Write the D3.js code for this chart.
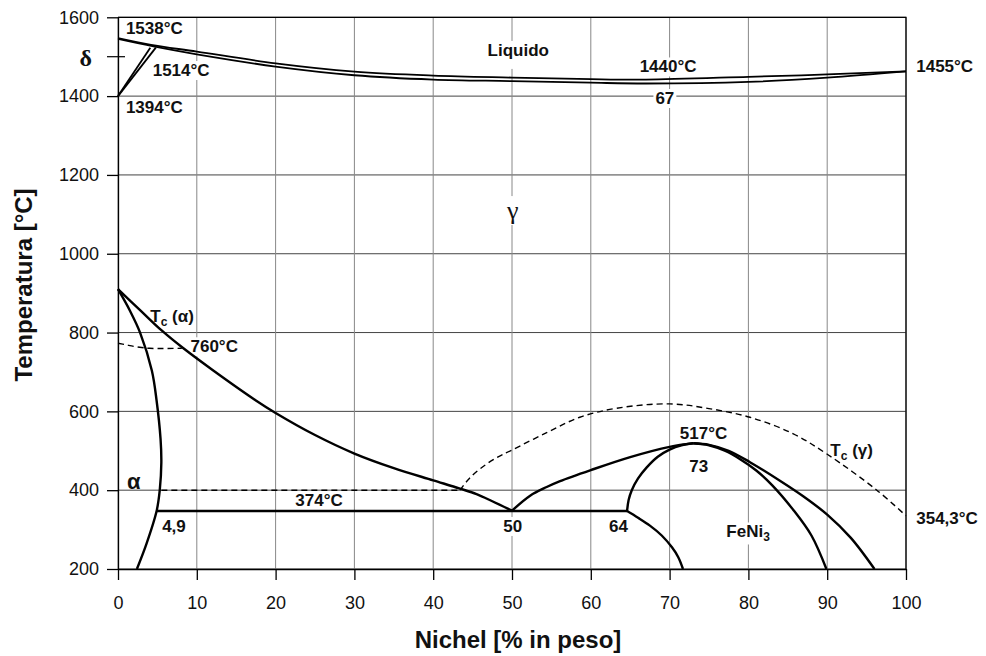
<!DOCTYPE html>
<html lang="it">
<head>
<meta charset="UTF-8">
<title>Diagramma Fe-Ni</title>
<script src="https://cdn.jsdelivr.net/npm/d3@7"></script>
<style>
  body { margin: 0; background: #fff; }
  svg { display: block; font-family: "Liberation Sans", Arial, sans-serif; }
  .axis text { font-size: 18px; fill: #111; }
  .axis path, .axis line { stroke: #000; stroke-width: 1.3; }
  .grid-h { stroke: #444; stroke-width: 1; }
  .grid-v { stroke: #888; stroke-width: 1; }
  .curve { fill: none; stroke: #000; stroke-width: 2.4; stroke-linejoin: round; }
  .thin { fill: none; stroke: #000; stroke-width: 1.8; }
  .dash { fill: none; stroke: #000; stroke-width: 1.4; stroke-dasharray: 6,4; }
  .lbl { font-size: 17px; font-weight: bold; fill: #111; }
  .title { font-size: 24px; font-weight: bold; fill: #111; }
</style>
</head>
<body>
<svg width="986" height="656"></svg>
<script>
// ticks
const niTicks = d3.range(0, 101, 10);
const tempTicks = d3.range(200, 1601, 200);
const minorTicks = [1500];

// curves: [Ni wt%, temperature C]
const liquidus = [[0,1547],[4.2,1530],[10,1513],[20,1483],[30,1462],[40,1452],[50,1447],[60,1443],[67,1442],[80,1449],[90,1455],[100,1463]];
const solidus = [[0,1545],[4.5,1526],[10,1506],[20,1475],[30,1453],[40,1442],[50,1438],[60,1434],[67,1432],[80,1436],[90,1447],[100,1463]];
const deltaLeft = [[0,1400],[4.1,1523]];
const deltaRight = [[0,1400],[4.8,1523]];
const alphaBoundary = [[0,910],[1.5,856],[2.8,800],[4.3,703],[4.9,627],[5.4,530],[5.5,470],[5.3,400],[4.9,347],[3.6,263],[2.4,200]];
const gammaBoundary = [[0,910],[2.8,857],[5.5,806],[8.3,760],[12,705],[17.4,629],[20,596],[25,540],[30,493],[35,456],[40,425],[43.4,404],[45.5,390],[47.5,372],[50,348]];
const eutectoid = [[4.9,347],[64.6,347]];
const rightOfEutectoid = [[50,348],[52.3,386],[54.4,408],[56.1,423],[60,451],[65,484],[70,510],[73,519]];
const feni3Left = [[64.6,347],[64.8,375],[65.2,400],[66,430],[67.1,458],[68.5,485],[70,503],[71.5,514],[73,519]];
const feni3Lower = [[64.6,347],[66,330],[67.5,310],[69,285],[70.3,255],[71.1,230],[71.7,200]];
const feni3Inner = [[73,519],[75,514],[77,500],[79,478],[81,450],[83,413],[85.7,350],[88,285],[89.9,200]];
const feni3Outer = [[73,519],[75,515],[77.5,500],[80.2,471],[84,424],[87,384],[90,338],[93,279],[96,200]];
const tcAlpha = [[0,773],[1,769],[2,765],[3,762],[4,760],[8.1,760]];
const magnetic400 = [[5.5,400],[43.4,400]];
const tcGamma = [[43.4,400],[44.5,428],[46,455],[48,482],[50,502],[54.4,546],[58.6,585],[63.3,608],[70,619],[75,607],[80.2,585],[85.7,543],[90.1,490],[96.3,400],[100,335]];

// labels: text, Ni, T, anchor, font, white box
const labels = [
  {t: "1538°C", ni: 1.0, temp: 1557, a: "start"},
  {t: "1514°C", ni: 4.4, temp: 1451, a: "start", bg: true},
  {t: "1394°C", ni: 1.0, temp: 1356, a: "start"},
  {t: "δ", ni: -4.1, temp: 1476, a: "middle", f: "serif", size: 24},
  {t: "Liquido", ni: 50.8, temp: 1502, a: "middle", bg: true, padB: 9},
  {t: "1440°C", ni: 66.2, temp: 1460, a: "start", bg: true},
  {t: "67", ni: 69.4, temp: 1380, a: "middle", bg: true},
  {t: "1455°C", ni: 101.3, temp: 1460, a: "start"},
  {t: "γ", ni: 50.1, temp: 1088, a: "middle", f: "serif", size: 26, weight: "normal", bg: true},
  {t: "T", sub: "c", tail: " (α)", ni: 4.1, temp: 826, a: "start"},
  {t: "760°C", ni: 9.2, temp: 750, a: "start", bg: true},
  {t: "α", ni: 2.0, temp: 404, a: "middle", size: 22},
  {t: "374°C", ni: 22.5, temp: 359, a: "start"},
  {t: "4,9", ni: 5.6, temp: 293, a: "start"},
  {t: "50", ni: 50.1, temp: 294, a: "middle", bg: true},
  {t: "64", ni: 62.3, temp: 294, a: "start"},
  {t: "517°C", ni: 71.3, temp: 530, a: "start"},
  {t: "73", ni: 72.5, temp: 446, a: "start"},
  {t: "FeNi", sub: "3", ni: 77.2, temp: 280, a: "start", bg: true},
  {t: "T", sub: "c", tail: " (γ)", ni: 90.4, temp: 488, a: "start"},
  {t: "354,3°C", ni: 101.3, temp: 314, a: "start"}
];

const svg = d3.select("svg");
const x = d3.scaleLinear().domain([0, 100]).range([118, 906]);
const y = d3.scaleLinear().domain([200, 1600]).range([569, 17.3]);
const line = d3.line().x(d => x(d[0])).y(d => y(d[1])).curve(d3.curveCatmullRom.alpha(0.5));

// grid
svg.append("g").selectAll("line").data(tempTicks).join("line")
  .attr("class", "grid-h")
  .attr("x1", x(0)).attr("x2", x(100))
  .attr("y1", d => y(d)).attr("y2", d => y(d));
svg.append("g").selectAll("line").data(niTicks).join("line")
  .attr("class", "grid-v")
  .attr("x1", d => x(d)).attr("x2", d => x(d))
  .attr("y1", y(200)).attr("y2", y(1600));

// white boxes behind some labels
const boxLayer = svg.append("g");
const curveLayer = svg.append("g");
const textLayer = svg.append("g");

// axes
svg.append("g").attr("class", "axis")
  .attr("transform", `translate(0,${y(200)})`)
  .call(d3.axisBottom(x).tickValues(niTicks).tickFormat(d3.format("d"))
    .tickSize(11).tickSizeOuter(0).tickPadding(16));
svg.append("g").attr("class", "axis")
  .attr("transform", `translate(${x(0)},0)`)
  .call(d3.axisLeft(y).tickValues(tempTicks).tickFormat(d3.format("d"))
    .tickSize(11).tickSizeOuter(0).tickPadding(8));
svg.append("g").selectAll("line").data(minorTicks).join("line")
  .attr("x1", x(0) - 11).attr("x2", x(0) + 7)
  .attr("y1", d => y(d)).attr("y2", d => y(d))
  .attr("stroke", "#000").attr("stroke-width", 1.2);
// frame top / right
svg.append("path")
  .attr("d", `M${x(0)},${y(1600)}H${x(100)}V${y(200)}`)
  .attr("fill", "none").attr("stroke", "#000").attr("stroke-width", 1.3);

// curves
curveLayer.selectAll(".liq").data([liquidus, solidus, deltaLeft, deltaRight]).join("path")
  .attr("class", "thin").attr("d", line);
curveLayer.selectAll(".main").data([alphaBoundary, gammaBoundary, eutectoid, rightOfEutectoid,
    feni3Left, feni3Lower, feni3Inner, feni3Outer]).join("path")
  .attr("class", "curve").attr("d", line);
curveLayer.selectAll(".dash").data([tcAlpha, magnetic400, tcGamma]).join("path")
  .attr("class", "dash").attr("d", line);

// labels
labels.forEach(l => {
  const t = textLayer.append("text")
    .attr("class", "lbl")
    .attr("x", x(l.ni)).attr("y", y(l.temp))
    .attr("text-anchor", l.a);
  if (l.f === "serif") t.style("font-family", '"Liberation Serif", "DejaVu Serif", serif');
  if (l.size) t.style("font-size", l.size + "px");
  if (l.weight) t.style("font-weight", l.weight);
  t.append("tspan").text(l.t);
  if (l.sub) t.append("tspan").attr("dy", 4).style("font-size", "12px").text(l.sub);
  if (l.tail) t.append("tspan").attr("dy", -4).text(l.tail);
  if (l.bg) {
    const b = t.node().getBBox();
    boxLayer.append("rect")
      .attr("x", b.x - 2).attr("y", b.y)
      .attr("width", b.width + 4).attr("height", b.height + (l.padB || 0))
      .attr("fill", "#fff");
  }
});

// axis titles
svg.append("text").attr("class", "title")
  .attr("x", 518).attr("y", 648).attr("text-anchor", "middle")
  .text("Nichel [% in peso]");
svg.append("text").attr("class", "title")
  .attr("transform", "translate(32,285) rotate(-90)")
  .attr("text-anchor", "middle")
  .text("Temperatura [°C]");
</script>
</body>
</html>
